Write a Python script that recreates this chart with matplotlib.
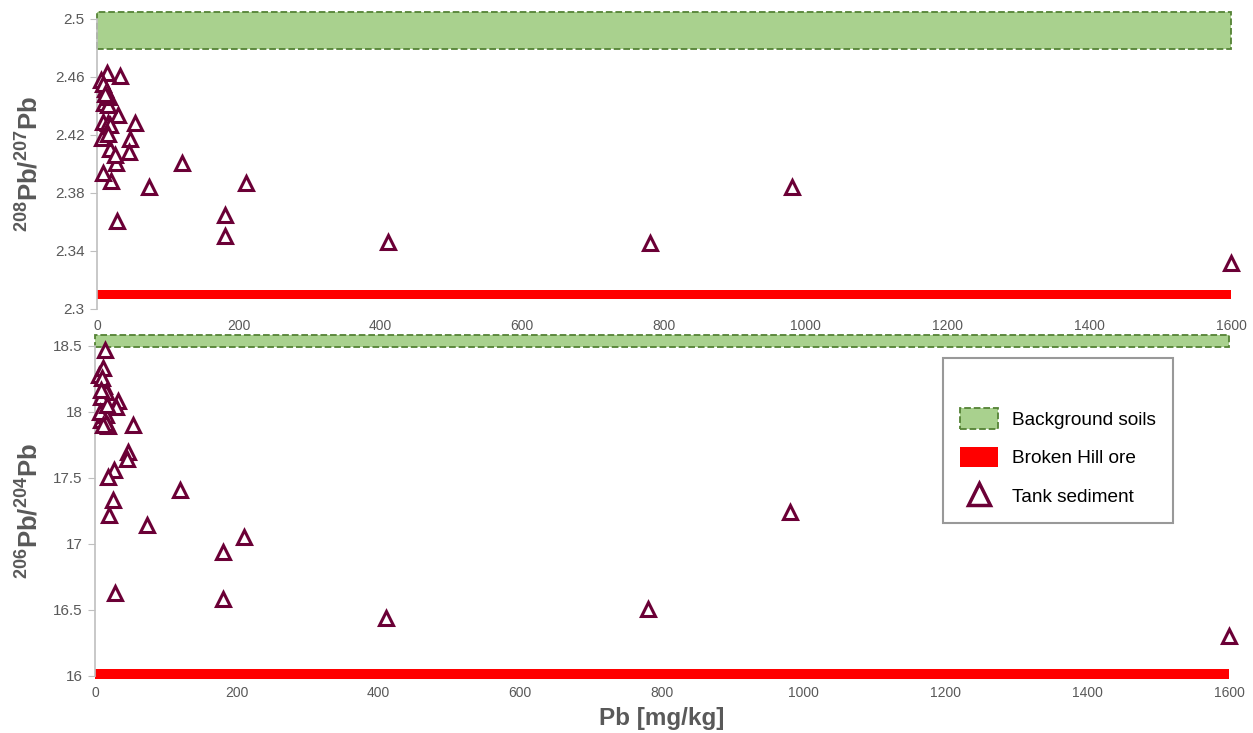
"""Pb isotope ratios vs Pb concentration in tank sediments."""

import matplotlib

matplotlib.use("Agg")

import matplotlib.pyplot as plt
from matplotlib.lines import Line2D
from matplotlib.patches import Patch

plt.rcParams["font.family"] = ["Liberation Sans", "DejaVu Sans"]
plt.rcParams["mathtext.fontset"] = "custom"
plt.rcParams["mathtext.rm"] = "Liberation Sans"
plt.rcParams["mathtext.bf"] = "Liberation Sans:bold"

# Tank sediment samples: Pb concentration and isotope ratios
pb_conc = [1600, 780, 410, 980, 210, 181, 181, 120, 73, 28, 20, 53, 46, 45,
           27, 18, 25, 32, 30, 14, 6, 8, 12, 13, 10, 15, 8, 16, 7, 18, 15,
           9, 17, 11]
ratio_208_207 = [2.332, 2.3455, 2.346, 2.384, 2.387, 2.365, 2.350, 2.401,
                 2.384, 2.361, 2.388, 2.428, 2.417, 2.408, 2.401, 2.410,
                 2.406, 2.461, 2.434, 2.463, 2.458, 2.394, 2.452, 2.449,
                 2.442, 2.441, 2.429, 2.428, 2.418, 2.427, 2.421, 2.455,
                 2.446, 2.448]
ratio_206_204 = [16.30, 16.51, 16.44, 17.24, 17.05, 16.94, 16.58, 17.41,
                 17.14, 16.63, 17.22, 17.90, 17.70, 17.64, 17.56, 17.51,
                 17.33, 18.08, 18.04, 18.47, 18.28, 17.94, 18.33, 18.20,
                 18.26, 18.15, 18.11, 17.98, 18.00, 17.89, 17.92, 18.17,
                 18.05, 17.90]

# Reference fields (min, max)
bg_208_207 = (2.479, 2.505)
bh_208_207 = (2.307, 2.313)
bg_206_204 = (18.49, 18.58)
bh_206_204 = (15.98, 16.05)

x_ticks = list(range(0, 1601, 200))
top_yticks = [2.3, 2.34, 2.38, 2.42, 2.46, 2.5]
bot_yticks = [16, 16.5, 17, 17.5, 18, 18.5]

GREEN = "#a9d18e"
GREEN_EDGE = "#548235"
RED = "#ff0000"
MAROON = "#6b0036"
GREY = "#595959"

fig = plt.figure(figsize=(12.53, 7.33), dpi=100)
ax1 = fig.add_axes([0.0774, 0.5785, 0.905, 0.3956])
ax2 = fig.add_axes([0.0758, 0.0778, 0.905, 0.4502])


def style_panel(ax, yticks, ylim, bg, bh, yvals, ylabel, label_x):
    ax.axhspan(*bg, facecolor=GREEN, edgecolor=GREEN_EDGE, linestyle="--",
               linewidth=1.3, clip_on=False, zorder=1)
    ax.axhspan(*bh, facecolor=RED, edgecolor="none", clip_on=False, zorder=1)
    ax.plot(pb_conc, yvals, linestyle="none", marker="^", markersize=10.5,
            markerfacecolor="white", markeredgecolor=MAROON,
            markeredgewidth=2.2, clip_on=False, zorder=3)
    ax.set_xlim(0, 1600)
    ax.set_ylim(*ylim)
    ax.set_xticks(x_ticks)
    ax.set_yticks(yticks)
    ax.set_yticklabels([f"{t:g}" for t in yticks])
    for side in ("top", "right", "bottom"):
        ax.spines[side].set_visible(False)
    ax.spines["left"].set_color("#bfbfbf")
    ax.spines["left"].set_linewidth(1.2)
    ax.tick_params(axis="x", length=0, pad=7, labelsize=10, labelcolor=GREY)
    ax.tick_params(axis="y", length=5, color="#bfbfbf", pad=4, labelsize=11,
                   labelcolor=GREY)
    ax.set_ylabel(ylabel, fontsize=18.5, color=GREY)
    ax.yaxis.set_label_coords(label_x, 0.5)


style_panel(ax1, top_yticks, (2.3, 2.5), bg_208_207, bh_208_207,
            ratio_208_207, r"$\mathbf{^{208}Pb/^{207}Pb}$", -0.0476)
style_panel(ax2, bot_yticks, (16, 18.5), bg_206_204, bh_206_204,
            ratio_206_204, r"$\mathbf{^{206}Pb/^{204}Pb}$", -0.046)
ax2.set_xlabel("Pb [mg/kg]", fontsize=17.5, fontweight="bold", color=GREY,
               labelpad=5)

handles = [
    Patch(facecolor=GREEN, edgecolor=GREEN_EDGE, linestyle="--", linewidth=1.3),
    Patch(facecolor=RED, edgecolor="none"),
    Line2D([], [], linestyle="none", marker="^", markersize=15.5,
           markerfacecolor="white", markeredgecolor=MAROON, markeredgewidth=2.5),
]
labels = ["Background soils", "Broken Hill ore", "Tank sediment"]
leg = fig.legend(handles, labels, loc="upper left",
                 bbox_to_anchor=(0.7526, 0.5116), fontsize=13.7,
                 title=" ", title_fontsize=12,
                 frameon=True, fancybox=False, borderaxespad=0,
                 handlelength=2.0, handleheight=1.3, handletextpad=0.7,
                 labelspacing=0.94, borderpad=0.9)
leg.get_frame().set_edgecolor("#808080")
leg.get_frame().set_linewidth(1.5)

fig.savefig("out.png", dpi=100)
plt.close(fig)
